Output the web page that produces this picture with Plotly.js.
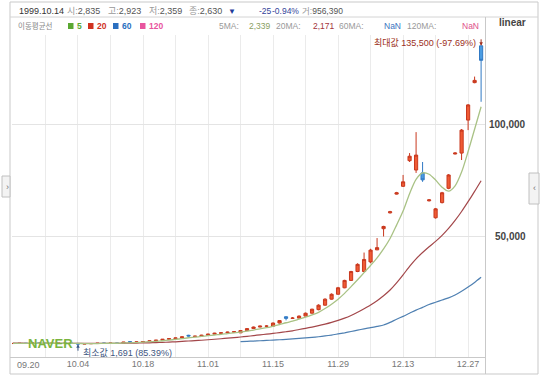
<!DOCTYPE html>
<html><head><meta charset="utf-8">
<script src="https://cdn.plot.ly/plotly-3.0.1.min.js"></script>
<style>html,body{margin:0;padding:0;background:#fff}#c{width:540px;height:376px}</style>
</head><body><div id="c"></div>
<script>
// ---- data ----
const dates = ['09.20','09.21','09.22','09.23','09.24','09.27','09.28','09.29','09.30','10.01',
 '10.04','10.05','10.06','10.07','10.08','10.11','10.12','10.13','10.14','10.15',
 '10.18','10.19','10.20','10.21','10.22','10.25','10.26','10.27','10.28','10.29',
 '11.01','11.02','11.03','11.04','11.05','11.08','11.09','11.10','11.11','11.12',
 '11.15','11.16','11.17','11.18','11.19','11.22','11.23','11.24','11.25','11.26',
 '11.29','11.30','12.01','12.02','12.03','12.06','12.07','12.08','12.09','12.10',
 '12.13','12.14','12.15','12.16','12.17','12.20','12.21','12.22','12.23','12.24',
 '12.27','12.28','12.29'];
const openP = [2000,2050,2100,2080,2150,2120,2090,2140,2180,2110,
 2060,1780,1900,2010,2150,2130,2160,2120,2835,2630,
 2700,2900,3200,3500,3900,4200,4500,5700,5100,5300,
 5700,6200,6600,6800,7100,6800,7800,8700,9400,9800,
 9800,11200,14000,13300,13400,14300,15600,17200,19200,21900,
 24100,27000,30300,34300,34300,38600,44000,53500,60600,69000,
 72500,84000,79800,78500,66000,58400,65200,71600,87000,87400,
 102200,119000,135500];
const highP = [2120,2150,2130,2200,2180,2140,2170,2230,2200,2130,
 2080,1950,2050,2190,2200,2210,2190,2700,2923,2800,
 3000,3300,3600,4000,4300,4600,5100,5900,5500,5900,
 6400,6800,7000,7300,7500,8000,8900,9600,10000,10200,
 11400,12500,14200,13900,14600,15900,17600,19600,22300,24500,
 27400,30600,34600,38000,42800,44500,49300,54800,61500,70000,
 77600,87400,96800,83400,66800,62800,70000,78000,87800,98200,
 109400,121700,135500];
const lowP = [1980,2020,2040,2060,2090,2060,2070,2120,2090,2020,
 1691,1760,1880,1990,2100,2110,2080,2120,2359,2600,
 2680,2880,3150,3450,3850,4150,4450,5200,5000,5250,
 5650,6100,6500,6700,7000,6700,7700,8600,9300,9500,
 9700,11000,12400,13100,13300,14200,15500,16900,19000,21700,
 24000,26800,30100,34000,34000,38000,43900,50000,60300,68800,
 72200,83400,78500,74500,65700,58000,64800,71200,86800,84300,
 97700,118700,110400];
const closeP = [2050,2100,2080,2150,2120,2090,2140,2180,2110,2060,
 1780,1900,2010,2150,2130,2160,2120,2655,2630,2700,
 2900,3200,3500,3900,4200,4500,5000,5400,5300,5700,
 6200,6600,6800,7100,7300,7800,8700,9400,9800,9800,
 11200,12300,13300,13400,14300,15600,17400,19200,21900,24100,
 27000,30300,34300,37500,39700,43900,45000,54500,61100,69600,
 74500,86000,86500,75400,66400,62400,69600,77600,87400,97700,
 109000,120000,129000];
const ma5 = [2100,2110,2090,2100,2110,2120,2120,2130,2130,2110,
 2030,1990,1970,1970,2090,2140,2140,2250,2339,2450,
 2600,2820,2990,3240,3540,3860,4220,4600,4880,5180,
 5520,5840,6120,6480,6800,7120,7540,8060,8600,9100,
 9780,10500,11320,12040,12940,13820,14840,16000,17680,19640,
 21900,24500,27500,30600,33800,37000,40400,44400,49100,55100,
 61400,69200,75600,78500,77900,75300,72100,70300,72700,78900,
 88100,98100,108200];
const ma20 = [2150,2150,2140,2140,2140,2130,2130,2130,2130,2120,
 2110,2100,2100,2100,2110,2120,2130,2150,2171,2210,
 2260,2330,2420,2520,2640,2780,2950,3130,3300,3480,
 3690,3920,4150,4400,4650,4930,5230,5560,5900,6200,
 6550,6920,7300,7700,8300,8820,9380,10000,10700,11500,
 12400,13400,14600,16000,17600,19300,21200,23400,26000,29200,
 32800,36600,40000,42800,45400,47800,50500,53600,57200,61200,
 65600,70200,75000];
const ma60 = [null,null,null,null,null,null,null,null,null,null,
 null,null,null,null,null,null,null,null,null,null,
 null,null,null,null,null,null,null,null,null,null,
 null,null,null,null,null,2900,3000,3100,3250,3400,
 3550,3700,3900,4100,4300,4500,4750,5050,5400,5800,
 6300,6800,7400,8000,8600,9100,9700,10300,11500,12900,
 14200,15600,17000,18200,19500,20500,21500,22500,23800,25400,
 27300,29400,31700];
const xGridDates = ['09.20','09.27','10.04','10.11','10.18','10.25','11.01','11.08','11.15','11.22','11.29','12.06','12.13','12.20','12.27'];
const xTickText  = ['','','10.04','','10.18','','11.01','','11.15','','11.29','','12.13','','12.27'];
const firstTickLabel = '09.20';
const yTickVals = [50000, 100000];
const yTickText = ['50,000', '100,000'];
const minDate = '10.04', minVal = 1691, minText = '최소값 1,691 (85.39%)';
const maxDate = '12.29', maxVal = 135500, maxText = '최대값 135,500 (-97.69%)';
const maLegend = [['5','#5aa832'], ['20','#d0321f'], ['60','#2a6fc0'], ['120','#e8559e']];

// ---- helpers (pixel -> paper) ----
const L = 12, R = 485, T = 35, B = 357;
const P = px => (px - L) / (R - L);
const Q = py => (B - py) / (B - T);
const F = "'Liberation Sans','Noto Sans CJK KR',sans-serif";
const idx = d => dates.indexOf(d);   // category position (avoid numeric cast of '12.29')

function ann(px, py, text, color, size, opts) {
  return Object.assign({xref:'paper', yref:'paper', x:P(px), y:Q(py), text:text, showarrow:false,
    xanchor:'left', yanchor:'middle', font:{family:F, size:size||9, color:color||'#555'}}, opts||{});
}

const traces = [
  {type:'scatter', mode:'lines', x:dates, y:ma60, line:{color:'#4f80b2', width:1.2, shape:'spline', smoothing:0.6}, hoverinfo:'skip', connectgaps:false},
  {type:'scatter', mode:'lines', x:dates, y:ma20, line:{color:'#a3474a', width:1.2, shape:'spline', smoothing:0.6}, hoverinfo:'skip'},
  {type:'scatter', mode:'lines', x:dates, y:ma5, line:{color:'#a9c285', width:1.3, shape:'spline', smoothing:0.8}, hoverinfo:'skip'},
  {type:'candlestick', x:dates, open:openP, high:highP, low:lowP, close:closeP,
   increasing:{line:{color:'#c8381e', width:1}, fillcolor:'#ef5a34'},
   decreasing:{line:{color:'#3079c4', width:1}, fillcolor:'#4a9ce2'},
   whiskerwidth:0, hoverinfo:'skip'}
];

const hs = 8.5;
const annotations = [
  // header row 1
  ann(17, 11, '1999.10.14', '#333', 9),
  ann(65, 11, '<span style="color:#999">시:</span>2,835', '#555', 9),
  ann(106, 11, '<span style="color:#999">고:</span>2,923', '#555', 9),
  ann(147, 11, '<span style="color:#999">저:</span>2,359', '#555', 9),
  ann(187, 11, '<span style="color:#999">종:</span>2,630', '#555', 9),
  ann(226, 11, '▼', '#1f3c9a', 8),
  ann(257, 11, '-25', '#34449a', hs),
  ann(270, 11, '-0.94%', '#34449a', hs),
  ann(300, 11, '<span style="color:#999">거:</span>956,390', '#555', hs),
  // header row 2
  ann(16, 26, '이동평균선', '#888', 7.5),
  ann(217, 26, '5MA:', '#999', hs),
  ann(247, 26, '2,339', '#8aa060', hs),
  ann(274, 26, '20MA:', '#999', hs),
  ann(311, 26, '2,171', '#a3343a', hs),
  ann(337, 26, '60MA:', '#999', hs),
  ann(382, 26, 'NaN', '#3a74c0', hs),
  ann(405, 26, '120MA:', '#999', hs),
  ann(460, 26, 'NaN', '#e0508a', hs),
  ann(497, 23, '<b>linear</b>', '#444', 10),
  // x first label
  ann(15, 365, firstTickLabel, '#777', 9),
  // watermark
  ann(26, 343, '<b>NAVER</b>', '#7ab43e', 13),
  // min / max markers
  {x:idx(minDate), y:minVal, xref:'x', yref:'y', text:'', showarrow:true, ax:0, ay:8, arrowhead:2, arrowsize:0.7, arrowwidth:1, arrowcolor:'#3a5a8a'},
  {x:idx(minDate), y:minVal, xref:'x', yref:'y', text:minText, showarrow:false, xanchor:'left', yanchor:'middle', xshift:3, yshift:-8, font:{family:F, size:9, color:'#3d5580'}},
  {x:idx(maxDate), y:maxVal, xref:'x', yref:'y', text:'', showarrow:true, ax:0, ay:-8, arrowhead:2, arrowsize:0.7, arrowwidth:1, arrowcolor:'#a03020'},
  {x:idx(maxDate), y:maxVal, xref:'x', yref:'y', text:maxText, showarrow:false, xanchor:'right', yanchor:'middle', xshift:-3, yshift:3, font:{family:F, size:9, color:'#9c2f22'}}
];
// y tick labels, right aligned
yTickVals.forEach((v, k) => annotations.push({xref:'paper', yref:'y', x:P(528), y:v, text:'<b>'+yTickText[k]+'</b>', showarrow:false, xanchor:'right', yanchor:'middle', font:{family:F, size:10, color:'#444'}}));

const shapes = [
  {type:'rect', xref:'paper', yref:'paper', x0:P(10), x1:P(538), y0:Q(374), y1:Q(2), line:{color:'#c9c9c9', width:1}},
  {type:'line', xref:'paper', yref:'paper', x0:P(10), x1:P(538), y0:Q(17), y1:Q(17), line:{color:'#d4d4d4', width:1}},
  {type:'line', xref:'paper', yref:'paper', x0:P(485.5), x1:P(485.5), y0:Q(17), y1:Q(374), line:{color:'#c9c9c9', width:1}},
  {type:'line', xref:'paper', yref:'paper', x0:P(10), x1:P(485.5), y0:Q(357.5), y1:Q(357.5), line:{color:'#c9c9c9', width:1}},
  {type:'rect', xref:'paper', yref:'paper', x0:P(2), x1:P(10), y0:Q(197), y1:Q(176), fillcolor:'#f3f3f3', line:{color:'#c0c0c0', width:1}},
  {type:'rect', xref:'paper', yref:'paper', x0:P(529), x1:P(539), y0:Q(204), y1:Q(173), fillcolor:'#f3f3f3', line:{color:'#c0c0c0', width:1}}
];
// MA legend: colored squares + labels
const legX = [68, 88, 113, 140];
maLegend.forEach((m, k) => {
  shapes.push({type:'rect', xref:'paper', yref:'paper', x0:P(legX[k]), x1:P(legX[k]+5.5), y0:Q(29), y1:Q(23), fillcolor:m[1], line:{width:0}});
  annotations.push(ann(legX[k]+6.5, 26, '<b>'+m[0]+'</b>', m[1], 8.5));
});
annotations.push(ann(4, 187, '›', '#777', 9));
annotations.push(ann(531, 188, '‹', '#777', 9));

const layout = {
  width:540, height:376,
  margin:{l:L, r:540-R, t:T, b:376-B, pad:0},
  paper_bgcolor:'#fff', plot_bgcolor:'#fff',
  showlegend:false, dragmode:false,
  xaxis:{type:'category', categoryorder:'array', categoryarray:dates, range:[-0.15, 72.6],
    tickmode:'array', tickvals:xGridDates, ticktext:xTickText,
    showgrid:true, gridcolor:'#ebebeb', gridwidth:1, zeroline:false, showline:false,
    ticks:'', tickfont:{family:F, size:9, color:'#777'}, rangeslider:{visible:false}, fixedrange:true},
  yaxis:{side:'right', range:[-4036, 140350], tickmode:'array', tickvals:yTickVals, showticklabels:false,
    showgrid:true, gridcolor:'#e4e4e4', zeroline:false, showline:false, ticks:'', fixedrange:true},
  annotations:annotations, shapes:shapes,
  font:{family:F}
};
Plotly.newPlot('c', traces, layout, {staticPlot:true, displayModeBar:false});
</script></body></html>
